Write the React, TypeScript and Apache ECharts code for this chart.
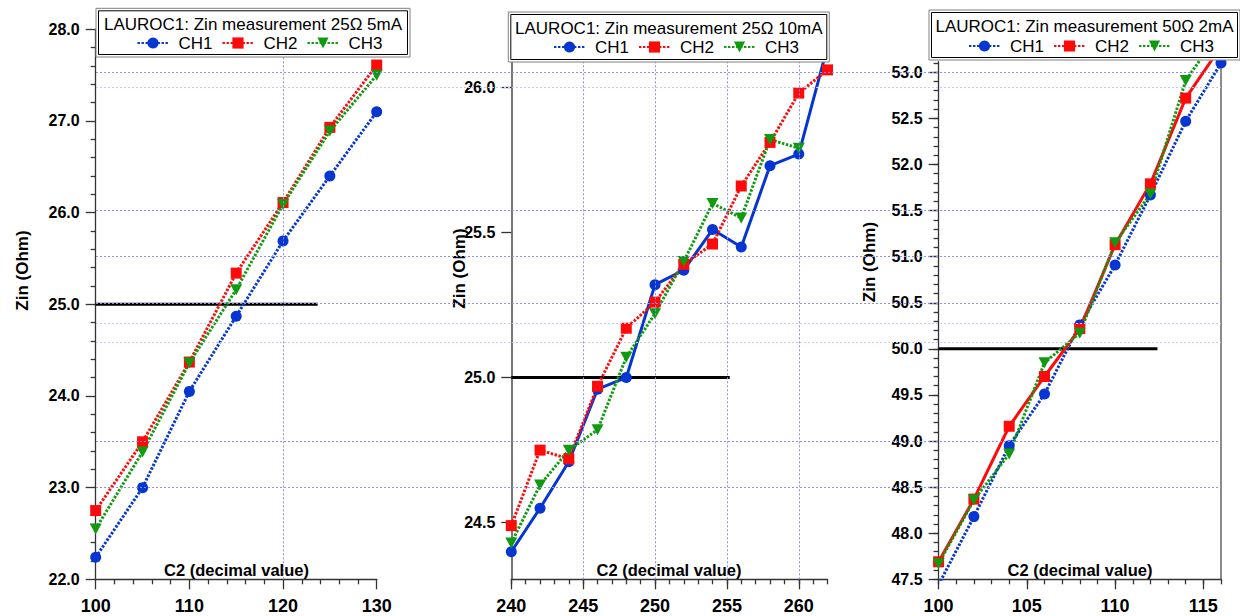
import React, { useEffect, useRef } from "react";
import * as echarts from "echarts";

// ---------- data ----------
const channelNames = ["CH1", "CH2", "CH3"];
const panelTitles = [
  "LAUROC1: Zin measurement 25\u03A9 5mA",
  "LAUROC1: Zin measurement 25\u03A9 10mA",
  "LAUROC1: Zin measurement 50\u03A9 2mA",
];
const xAxisTitle = "C2 (decimal value)";
const yAxisTitle = "Zin (Ohm)";

// Panel 1 : 25 Ohm 5 mA
const p1X = [100, 105, 110, 115, 120, 125, 130];
const p1CH1 = [22.24, 23.0, 24.05, 24.87, 25.69, 26.4, 27.1];
const p1CH2 = [22.75, 23.5, 24.37, 25.34, 26.11, 26.93, 27.61];
const p1CH3 = [22.55, 23.39, 24.36, 25.16, 26.09, 26.89, 27.5];
const p1RefX = [100, 123.7];
const p1RefY = 25.0;

// Panel 2 : 25 Ohm 10 mA
const p2X = [240, 242, 244, 246, 248, 250, 252, 254, 256, 258, 260, 262];
const p2CH1 = [24.4, 24.55, 24.71, 24.96, 25.0, 25.32, 25.37, 25.51, 25.45, 25.73, 25.77, 26.14];
const p2CH2 = [24.49, 24.75, 24.72, 24.97, 25.17, 25.26, 25.39, 25.46, 25.66, 25.81, 25.98, 26.06];
const p2CH3 = [24.43, 24.63, 24.75, 24.82, 25.07, 25.22, 25.4, 25.6, 25.55, 25.82, 25.79, null];
const p2RefX = [240, 255.2];
const p2RefY = 25.0;

// Panel 3 : 50 Ohm 2 mA
const p3X = [100, 102, 104, 106, 108, 110, 112, 114, 116];
const p3CH1 = [47.44, 48.18, 48.95, 49.51, 50.26, 50.91, 51.67, 52.47, 53.1];
const p3CH2 = [47.69, 48.37, 49.16, 49.7, 50.22, 51.13, 51.79, 52.72, 53.28];
const p3CH3 = [47.67, 48.36, 48.86, 49.85, 50.17, 51.15, 51.68, 52.91, 53.46];
const p3RefX = [100, 112.4];
const p3RefY = 50.0;

// tick labels
const p1XTicks = [100, 110, 120, 130];
const p1YTicks = [22, 23, 24, 25, 26, 27, 28];
const p2XTicks = [240, 245, 250, 255, 260];
const p2YTicks = [24.5, 25.0, 25.5, 26.0];
const p3XTicks = [100, 105, 110, 115];
const p3YTicks = [47.5, 48.0, 48.5, 49.0, 49.5, 50.0, 50.5, 51.0, 51.5, 52.0, 52.5, 53.0];

// grid lines
const p1VGrid = [120];
const p2VGrid = [245, 250, 255, 260];
const bgHGridStrong = [53.0, 51.5, 51.0, 50.5, 49.0, 48.5];
const bgHGridFaint = [52.84, 50.28, 50.07];

// ---------- styling ----------
const BLUE = "#0636d2";
const RED = "#ff0a0a";
const GREEN = "#109a10";
const FONT = "'Liberation Sans', Arial, sans-serif";
const AXIS_COLOR = "#333";
const DOT: number[] = [2.4, 1.6];

const steps = (a: number, b: number, d: number) => {
  const out: number[] = [];
  const n = Math.round((b - a) / d);
  for (let i = 0; i <= n; i++) out.push(Math.round((a + i * d) * 1000) / 1000);
  return out;
};

const tickLabel = (fs: number, margin: number, digits: number, values?: number[]) => ({
  show: true,
  fontSize: fs,
  fontWeight: "bold" as const,
  fontFamily: FONT,
  color: "#000",
  margin,
  formatter: (v: number) => Number(v).toFixed(digits),
  ...(values ? { customValues: values } : {}),
});

const axisLine = { show: true, onZero: false, lineStyle: { color: AXIS_COLOR, width: 1.3 } };

function chSeries(
  name: string,
  xs: number[],
  ys: (number | null)[],
  color: string,
  symbol: string,
  solid: boolean,
  xi: number,
  yi: number
) {
  const size = symbol === "circle" ? 11 : symbol === "rect" ? 11 : [12, 11];
  return {
    type: "line",
    name,
    xAxisIndex: xi,
    yAxisIndex: yi,
    data: xs.map((x, i) => [x, ys[i]]),
    symbol,
    symbolSize: size,
    symbolRotate: symbol === "triangle" ? 180 : 0,
    showAllSymbol: true,
    itemStyle: { color },
    lineStyle: { color, width: 3, type: solid ? "solid" : DOT },
    clip: true,
    z: 3,
    silent: true,
  };
}

function refSeries(xs: number[], y: number, xi: number, yi: number, vgrid: number[]) {
  return {
    type: "line",
    name: "ref",
    xAxisIndex: xi,
    yAxisIndex: yi,
    data: xs.map((x) => [x, y]),
    symbol: "none",
    lineStyle: { color: "#000", width: 3 },
    z: 2,
    silent: true,
    markLine: {
      silent: true,
      symbol: ["none", "none"],
      label: { show: false },
      lineStyle: { color: "#8c8cf2", width: 1, type: [2, 2] },
      data: vgrid.map((v) => ({ xAxis: v })),
    },
  };
}

function legendBox(x: number, y: number, w: number, h: number, title: string, titleY: number) {
  return [
    {
      type: "rect",
      shape: { x, y, width: w, height: h },
      style: { fill: "#fff", stroke: "#808080", lineWidth: 1 },
      z: 10,
      silent: true,
    },
    {
      type: "rect",
      shape: { x: x + 2.5, y: y + 2.5, width: w - 5, height: h - 5 },
      style: { fill: "none", stroke: "#000", lineWidth: 1 },
      z: 11,
      silent: true,
    },
    {
      type: "text",
      x: x + w / 2,
      y: titleY,
      style: {
        text: title,
        font: `17px ${FONT}`,
        fill: "#000",
        textAlign: "center",
        textVerticalAlign: "middle",
        align: "center",
        verticalAlign: "middle",
      },
      z: 12,
      silent: true,
    },
  ];
}

function axisTitle(x: number, y: number, text: string, vertical: boolean, fs: number) {
  return {
    type: "text",
    x,
    y,
    rotation: vertical ? Math.PI / 2 : 0,
    style: {
      text,
      font: `bold ${fs}px ${FONT}`,
      fill: "#000",
      textAlign: "center",
      textVerticalAlign: "middle",
      align: "center",
      verticalAlign: "middle",
    },
    z: 5,
    silent: true,
  };
}

function legendAt(left: number, top: number) {
  return {
    show: true,
    left,
    top,
    padding: 0,
    orient: "horizontal",
    data: channelNames,
    itemWidth: 31,
    itemHeight: 14,
    itemGap: 9,
    selectedMode: false,
    textStyle: { fontSize: 17, fontFamily: FONT, color: "#000", padding: [0, 0, 0, 5] },
    z: 20,
  };
}

export default function App() {
  const ref = useRef<HTMLDivElement>(null);

  useEffect(() => {
    if (!ref.current) return;
    const chart = echarts.init(ref.current, undefined, { renderer: "svg" });

    const p2XMinor = steps(240, 262, 1);
    const p3XMinor = steps(100, 116, 1);
    const p3YMinor = steps(47.5, 53.1, 0.1);

    const option: any = {
      animation: false,
      backgroundColor: "#fff",
      grid: [
        { left: 95.7, top: 29.3, width: 281, height: 550 },
        { left: 511.3, top: 60, width: 316.2, height: 519.3 },
        { left: 938.6, top: 61.7, width: 282.4, height: 517.6 },
        { left: 96, top: 61.7, width: 1125, height: 517.6 },
      ],
      xAxis: [
        {
          gridIndex: 0,
          type: "value",
          min: 100,
          max: 130,
          interval: 10,
          axisLine,
          axisTick: { show: true, length: 10, lineStyle: { color: AXIS_COLOR, width: 1.3 } },
          minorTick: { show: true, splitNumber: 5, length: 5, lineStyle: { color: AXIS_COLOR, width: 1.3 } },
          axisLabel: tickLabel(18, 18, 0),
          splitLine: { show: false },
          minorSplitLine: { show: false },
        },
        {
          gridIndex: 1,
          type: "value",
          min: 240,
          max: 262,
          axisLine,
          axisTick: { show: true, length: 10, customValues: p2XTicks, lineStyle: { color: AXIS_COLOR, width: 1.3 } },
          axisLabel: tickLabel(18, 18, 0, p2XTicks),
          splitLine: { show: false },
        },
        {
          gridIndex: 1,
          type: "value",
          position: "bottom",
          min: 240,
          max: 262,
          axisLine: { show: false, onZero: false },
          axisTick: { show: true, length: 5, customValues: p2XMinor, lineStyle: { color: AXIS_COLOR, width: 1.3 } },
          axisLabel: { show: false },
          splitLine: { show: false },
        },
        {
          gridIndex: 2,
          type: "value",
          min: 100,
          max: 116,
          axisLine,
          axisTick: { show: true, length: 10, customValues: p3XTicks, lineStyle: { color: AXIS_COLOR, width: 1.3 } },
          axisLabel: tickLabel(18, 18, 0, p3XTicks),
          splitLine: { show: false },
        },
        {
          gridIndex: 2,
          type: "value",
          position: "bottom",
          min: 100,
          max: 116,
          axisLine: { show: false, onZero: false },
          axisTick: { show: true, length: 5, customValues: p3XMinor, lineStyle: { color: AXIS_COLOR, width: 1.3 } },
          axisLabel: { show: false },
          splitLine: { show: false },
        },
        { gridIndex: 3, type: "value", min: 0, max: 1, show: false },
      ],
      yAxis: [
        {
          gridIndex: 0,
          type: "value",
          position: "left",
          min: 22,
          max: 28,
          interval: 1,
          axisLine,
          axisTick: { show: true, length: 10, lineStyle: { color: AXIS_COLOR, width: 1.3 } },
          minorTick: { show: true, splitNumber: 5, length: 5, lineStyle: { color: AXIS_COLOR, width: 1.3 } },
          axisLabel: tickLabel(16, 16, 1),
          splitLine: { show: false },
          minorSplitLine: { show: false },
        },
        {
          gridIndex: 1,
          type: "value",
          position: "left",
          min: 24.305,
          max: 26.094,
          axisLine: { show: true, onZero: false, lineStyle: { color: "#555", width: 1.6 } },
          axisTick: { show: true, length: 10, customValues: p2YTicks, lineStyle: { color: AXIS_COLOR, width: 1.3 } },
          axisLabel: tickLabel(16, 16, 1, p2YTicks),
          splitLine: { show: false },
        },
        {
          gridIndex: 2,
          type: "value",
          position: "left",
          min: 47.5,
          max: 53.115,
          axisLine,
          axisTick: { show: true, length: 10, customValues: p3YTicks, lineStyle: { color: AXIS_COLOR, width: 1.3 } },
          axisLabel: tickLabel(16, 16, 1, p3YTicks),
          splitLine: { show: false },
        },
        {
          gridIndex: 2,
          type: "value",
          position: "left",
          min: 47.5,
          max: 53.115,
          axisLine: { show: false, onZero: false },
          axisTick: { show: true, length: 5, customValues: p3YMinor, lineStyle: { color: AXIS_COLOR, width: 1.3 } },
          axisLabel: { show: false },
          splitLine: { show: false },
        },
        {
          gridIndex: 2,
          type: "value",
          position: "right",
          min: 47.5,
          max: 53.115,
          axisLine: { show: true, onZero: false, lineStyle: { color: "#6e6e6e", width: 1.6 } },
          axisTick: { show: false },
          axisLabel: { show: false },
          splitLine: { show: false },
        },
        { gridIndex: 3, type: "value", min: 47.5, max: 53.115, show: false },
      ],
      legend: [legendAt(136.5, 34.5), legendAt(553, 38.5), legendAt(968, 37.5)],
      series: [
        // panel 1
        refSeries(p1RefX, p1RefY, 0, 0, p1VGrid),
        chSeries(channelNames[0], p1X, p1CH1, BLUE, "circle", false, 0, 0),
        chSeries(channelNames[1], p1X, p1CH2, RED, "rect", false, 0, 0),
        chSeries(channelNames[2], p1X, p1CH3, GREEN, "triangle", false, 0, 0),
        // panel 2
        refSeries(p2RefX, p2RefY, 1, 1, p2VGrid),
        chSeries(channelNames[0], p2X, p2CH1, BLUE, "circle", true, 1, 1),
        chSeries(channelNames[1], p2X, p2CH2, RED, "rect", false, 1, 1),
        chSeries(channelNames[2], p2X, p2CH3, GREEN, "triangle", false, 1, 1),
        // panel 3
        refSeries(p3RefX, p3RefY, 3, 2, []),
        chSeries(channelNames[0], p3X, p3CH1, BLUE, "circle", false, 3, 2),
        chSeries(channelNames[1], p3X, p3CH2, RED, "rect", true, 3, 2),
        chSeries(channelNames[2], p3X, p3CH3, GREEN, "triangle", false, 3, 2),
        // background grid lines
        {
          type: "line",
          name: "bg",
          xAxisIndex: 5,
          yAxisIndex: 5,
          data: [[0, 47.5]],
          symbol: "none",
          lineStyle: { opacity: 0 },
          z: 1,
          silent: true,
          markLine: {
            silent: true,
            symbol: ["none", "none"],
            label: { show: false },
            data: [
              ...bgHGridStrong.map((v) => ({
                yAxis: v,
                lineStyle: { color: "#8c8cf2", width: 1, type: [2, 2] },
              })),
              ...bgHGridFaint.map((v) => ({
                yAxis: v,
                lineStyle: { color: "#c8c8f4", width: 1, type: [2, 2] },
              })),
            ],
          },
        },
      ],
      graphic: [
        ...legendBox(96, 8.3, 314, 48.7, panelTitles[0], 24.5),
        ...legendBox(508.3, 12, 321, 50, panelTitles[1], 28.5),
        ...legendBox(929, 10, 311, 50, panelTitles[2], 26.5),
        axisTitle(22.5, 270.5, yAxisTitle, true, 17),
        axisTitle(459, 268.5, yAxisTitle, true, 17),
        axisTitle(869.5, 262, yAxisTitle, true, 17),
        axisTitle(236.5, 570, xAxisTitle, false, 16.5),
        axisTitle(669, 570, xAxisTitle, false, 16.5),
        axisTitle(1080, 570, xAxisTitle, false, 16.5),
      ],
    };

    chart.setOption(option);
    return () => chart.dispose();
  }, []);

  return (
    <div
      ref={ref}
      style={{ position: "fixed", left: 0, top: 0, width: 1240, height: 616, background: "#fff" }}
    />
  );
}
